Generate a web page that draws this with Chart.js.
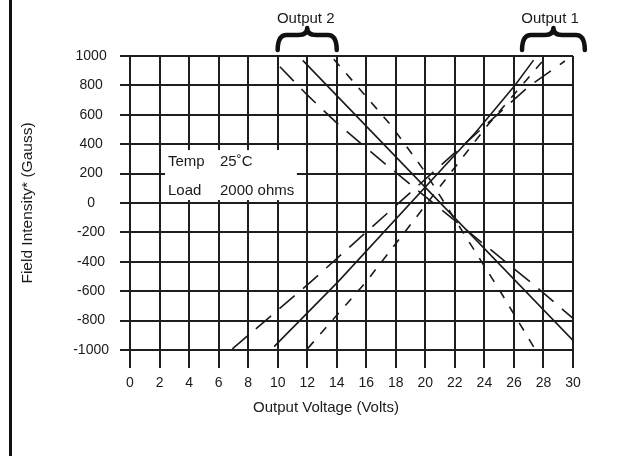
<!DOCTYPE html>
<html>
<head>
<meta charset="utf-8">
<script src="https://cdn.jsdelivr.net/npm/chart.js@4.4.0/dist/chart.umd.min.js"></script>
<style>
html,body{margin:0;padding:0;background:#fff;}
canvas{display:block;}
</style>
</head>
<body>
<canvas id="c" width="639" height="456"></canvas>
<script>
// ---------- data ----------
const xTickValues = [0,2,4,6,8,10,12,14,16,18,20,22,24,26,28,30];
const xTickLabels = ['0','2','4','6','8','10','12','14','16','18','20','22','24','26','28','30'];
const yTickValues = [-1000,-800,-600,-400,-200,0,200,400,600,800,1000];
const yTickLabels = ['-1000','-800','-600','-400','-200','0','200','400','600','800','1000'];

const xTitle = 'Output Voltage (Volts)';
const yTitle = 'Field Intensity* (Gauss)';
const groupNames = ['Output 1', 'Output 2'];
const noteLabels = ['Temp', 'Load'];
const noteValues = ['25\u02DAC', '2000 ohms'];

// Output 1 (rising lines)
const out1SolidVolts = [9.76, 14.1, 23.4, 26.1, 27.33];
const out1SolidGauss = [-977, -535, 480, 805, 972];
const out1LongVolts  = [6.93, 12.26, 26.96, 29.45];
const out1LongGauss  = [-993, -535, 789, 966];
const out1ShortVolts = [12.04, 16.0, 24.2, 28.0];
const out1ShortGauss = [-989, -535, 527, 972];

// Output 2 (falling lines)
const out2SolidVolts = [11.7, 30];
const out2SolidGauss = [970, -935];
const out2LongVolts  = [10.15, 12.0, 14.0, 17.1, 27.4, 30.0];
const out2LongGauss  = [927, 735, 545, 281, -561, -785];
const out2ShortVolts = [13.8, 17.7, 19.9, 25.0, 27.4];
const out2ShortGauss = [978, 526, 223, -589, -989];

// ---------- styles ----------
const INK = '#1a1a1a';
const GRID = '#1e1e1e';
const FONT = '"Liberation Sans", Arial, Helvetica, sans-serif';
const LONG_DASH = [20, 11];
const SHORT_DASH = [9, 10];

function pts(xs, ys) { return xs.map((v, i) => ({ x: v, y: ys[i] })); }
function ds(xs, ys, dash) {
  return {
    data: pts(xs, ys),
    showLine: true,
    borderColor: INK,
    borderWidth: 1.6,
    borderDash: dash,
    pointRadius: 0,
    pointHoverRadius: 0,
    tension: 0,
    fill: false
  };
}

const decor = {
  id: 'decor',
  beforeDraw(chart) {
    const c = chart.ctx;
    c.save();
    c.fillStyle = '#fff';
    c.fillRect(0, 0, chart.width, chart.height);
    c.restore();
  },
  afterDraw(chart) {
    const c = chart.ctx, xs = chart.scales.x, ys = chart.scales.y, a = chart.chartArea;
    c.save();
    // left frame bar
    c.fillStyle = '#111';
    c.fillRect(9, 0, 3, chart.height);

    // note box
    const bx0 = xs.getPixelForValue(2.37), bx1 = xs.getPixelForValue(11.3);
    const by0 = ys.getPixelForValue(360), by1 = ys.getPixelForValue(20);
    c.fillStyle = '#fff';
    c.fillRect(bx0, by0, bx1 - bx0, by1 - by0);
    c.fillStyle = INK;
    c.font = '15px ' + FONT;
    c.textAlign = 'left';
    c.textBaseline = 'alphabetic';
    c.fillText(noteLabels[0], bx0 + 3, by0 + 16);
    c.fillText(noteValues[0], bx0 + 55, by0 + 16);
    c.fillText(noteLabels[1], bx0 + 3, by0 + 45);
    c.fillText(noteValues[1], bx0 + 55, by0 + 45);

    // axis titles
    c.textAlign = 'center';
    c.textBaseline = 'middle';
    c.font = '15px ' + FONT;
    c.fillText(xTitle, 326, 408);
    c.save();
    c.translate(28, (a.top + a.bottom) / 2);
    c.rotate(-Math.PI / 2);
    c.font = '15.5px ' + FONT;
    c.fillText(yTitle, 0, 0);
    c.restore();

    // group labels and braces
    c.font = '15px ' + FONT;
    c.fillText(groupNames[1], xs.getPixelForValue(11.9), 19);
    c.fillText(groupNames[0], xs.getPixelForValue(28.45), 19);
    function brace(x0, x1) {
      const xm = (x0 + x1) / 2, yb = 50, yt = 35, yc = 28, r = 9;
      c.beginPath();
      c.moveTo(x0, yb);
      c.quadraticCurveTo(x0, yt, x0 + r, yt);
      c.lineTo(xm - r, yt);
      c.quadraticCurveTo(xm, yt, xm, yc);
      c.quadraticCurveTo(xm, yt, xm + r, yt);
      c.lineTo(x1 - r, yt);
      c.quadraticCurveTo(x1, yt, x1, yb);
      c.strokeStyle = '#111';
      c.lineWidth = 4.5;
      c.lineCap = 'round';
      c.lineJoin = 'round';
      c.stroke();
    }
    brace(xs.getPixelForValue(10.0), xs.getPixelForValue(14.0));
    brace(xs.getPixelForValue(26.55), xs.getPixelForValue(30.8));
    c.restore();
  }
};

new Chart(document.getElementById('c'), {
  type: 'scatter',
  data: {
    datasets: [
      ds(out1SolidVolts, out1SolidGauss, []),
      ds(out1LongVolts, out1LongGauss, LONG_DASH),
      ds(out1ShortVolts, out1ShortGauss, SHORT_DASH),
      ds(out2SolidVolts, out2SolidGauss, []),
      ds(out2LongVolts, out2LongGauss, LONG_DASH),
      ds(out2ShortVolts, out2ShortGauss, SHORT_DASH)
    ]
  },
  options: {
    responsive: false,
    devicePixelRatio: 1,
    animation: false,
    events: [],
    layout: { padding: { top: 56, right: 66, left: 0, bottom: 0 } },
    plugins: { legend: { display: false }, tooltip: { enabled: false }, title: { display: false } },
    scales: {
      x: {
        type: 'linear', min: 0, max: 30,
        afterBuildTicks: s => { s.ticks = xTickValues.map(v => ({ value: v })); },
        afterFit: s => { s.height = 106; },
        ticks: {
          callback: (v, i) => xTickLabels[i],
          font: { size: 14, family: FONT }, color: INK,
          padding: 7, maxRotation: 0, autoSkip: false
        },
        grid: { color: GRID, lineWidth: 2, tickLength: 18, drawTicks: true },
        border: { display: true, color: GRID, width: 2 }
      },
      y: {
        type: 'linear', min: -1000, max: 1000,
        afterBuildTicks: s => { s.ticks = yTickValues.map(v => ({ value: v })); },
        afterFit: s => { s.width = 130; },
        ticks: {
          callback: (v, i) => yTickLabels[i],
          font: { size: 14, family: FONT }, color: INK,
          padding: 11, crossAlign: 'center', autoSkip: false
        },
        grid: { color: GRID, lineWidth: 2, tickLength: 10, drawTicks: true },
        border: { display: true, color: GRID, width: 2 }
      }
    }
  },
  plugins: [decor]
});
</script>
</body>
</html>
